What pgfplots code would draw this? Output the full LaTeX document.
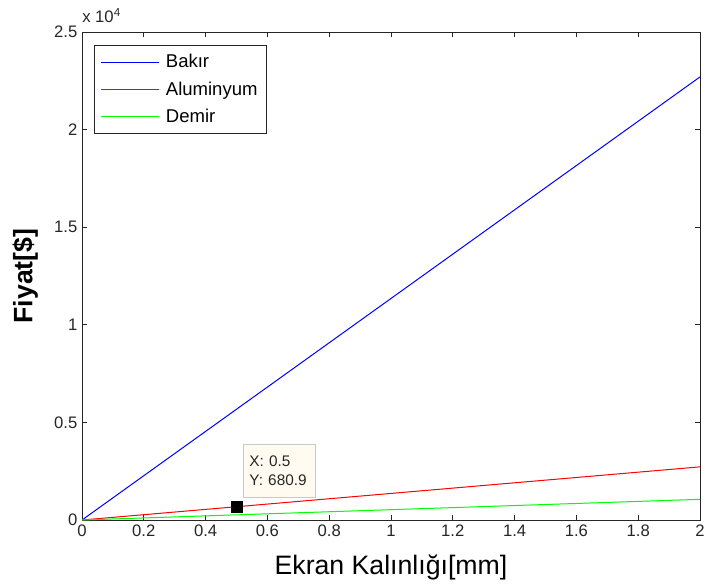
\documentclass[border=0pt]{standalone}
\usepackage{pgfplots}
\pgfplotsset{compat=1.18}
\usepackage{fontspec}
\setmainfont{Liberation Sans}
\definecolor{axgray}{RGB}{38,38,38}
\definecolor{tipfill}{RGB}{255,251,240}
\definecolor{tipedge}{RGB}{200,200,200}
\definecolor{mblue}{RGB}{0,0,255}
\definecolor{mred}{RGB}{255,0,0}
\definecolor{mgreen}{RGB}{0,255,0}
\begin{document}
\begin{tikzpicture}
\begin{axis}[
  at={(0,0)}, anchor=south west,
  scale only axis,
  clip mode=individual,
  width=463.5pt, height=366pt,
  xmin=0, xmax=2, ymin=0, ymax=25000,
  xtick={0,0.2,...,2.0},
  xticklabels={0,0.2,0.4,0.6,0.8,1,1.2,1.4,1.6,1.8,2},
  ytick={0,5000,10000,15000,20000,25000},
  yticklabels={0,0.5,1,1.5,2,2.5},
  scaled y ticks=false,
  tick align=inside,
  major tick length=4pt,
  axis line style={axgray, line width=0.75pt},
  every tick/.style={axgray, line width=0.75pt},
  tick label style={font=\fontsize{12.5}{14}\selectfont, text=axgray},
  xlabel={Ekran Kalınlığı[mm]},
  ylabel={\textbf{Fiyat[\$]}},
  xlabel style={font=\fontsize{20}{22}\selectfont, at={(axis description cs:0.5,-0.098)}, anchor=center},
  ylabel style={font=\fontsize{20}{22}\selectfont, at={(axis description cs:-0.092,0.5)}, anchor=center},
  legend cell align=left,
  legend style={at={(0.019,0.973)}, anchor=north west,
    draw=axgray, line width=0.75pt, text=black,
    font=\fontsize{13.9}{15}\selectfont,
    inner xsep=5pt, inner ysep=4.5pt, row sep=5pt, column sep=3pt},
  legend image code/.code={\draw[line width=0.75pt,#1] (0pt,0pt) -- (43pt,0pt);},
]
\addplot[draw=mblue, line width=0.75pt] coordinates {(0,0) (0.5,5675) (1,11350) (1.5,17025) (2,22700)};
\addlegendentry{Bakır}
\addplot[draw=mred, line width=0.75pt] coordinates {(0,0) (0.5,680.9) (1,1361.8) (1.5,2042.7) (2,2723.6)};
\addlegendentry{Aluminyum}
\addplot[draw=mgreen, line width=0.75pt] coordinates {(0,0) (0.5,265) (1,530) (1.5,795) (2,1060)};
\addlegendentry{Demir}
\addplot[only marks, mark=square*, mark size=4pt, black, forget plot] coordinates {(0.5,680.9)};
\node[anchor=south west, fill=tipfill, draw=tipedge, line width=0.75pt,
  font=\fontsize{11.5}{14}\selectfont, align=left, text=axgray,
  text width=45pt, minimum height=39.75pt, inner xsep=4.5pt]
  at (axis cs:0.521,1127) {X: 0.5\\Y: 680.9};
\node[anchor=base west, font=\fontsize{12.5}{14}\selectfont, text=axgray, inner sep=0pt]
  at (rel axis cs:0,1) [yshift=7pt] {x 10\textsuperscript{4}};
\end{axis}
\pgfresetboundingbox
\path (-61.5pt,-50.25pt) rectangle (467.25pt,390pt);
\end{tikzpicture}
\end{document}
